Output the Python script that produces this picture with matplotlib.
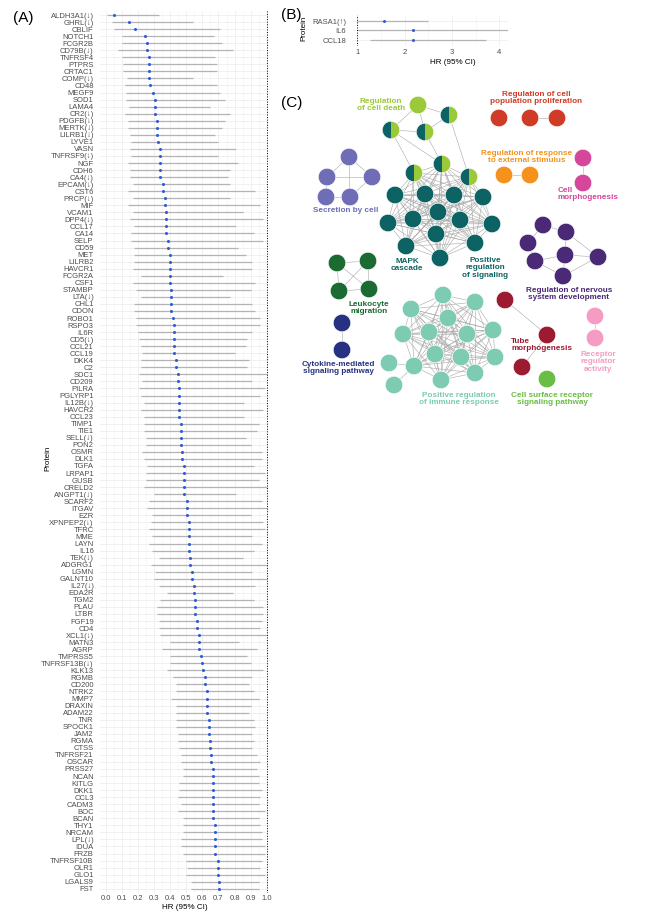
import itertools
import numpy as np
import matplotlib
matplotlib.use('Agg')
import matplotlib.pyplot as plt
from matplotlib.patches import Circle, Wedge

plt.rcParams['font.family'] = ['Liberation Sans', 'DejaVu Sans']

# ---------- (A) 数据 ----------
proteins = ['ALDH3A1(↓)', 'GHRL(↓)', 'CBLIF', 'NOTCH1', 'FCGR2B', 'CD79B(↓)', 'TNFRSF4', 'PTPRS',
            'CRTAC1', 'COMP(↓)', 'CD48', 'MEGF9', 'SOD1', 'LAMA4', 'CR2(↓)', 'PDGFB(↓)', 'MERTK(↓)',
            'LILRB1(↓)', 'LYVE1', 'VASN', 'TNFRSF9(↓)', 'NGF', 'CDH6', 'CA4(↓)', 'EPCAM(↓)', 'CST6',
            'PRCP(↓)', 'MIF', 'VCAM1', 'DPP4(↓)', 'CCL17', 'CA14', 'SELP', 'CD59', 'MET', 'LILRB2',
            'HAVCR1', 'FCGR2A', 'CSF1', 'STAMBP', 'LTA(↓)', 'CHL1', 'CDON', 'ROBO1', 'RSPO3', 'IL6R',
            'CD5(↓)', 'CCL21', 'CCL19', 'DKK4', 'C2', 'SDC1', 'CD209', 'PILRA', 'PGLYRP1', 'IL12B(↓)',
            'HAVCR2', 'CCL23', 'TIMP1', 'TIE1', 'SELL(↓)', 'PON2', 'OSMR', 'DLK1', 'TGFA', 'LRPAP1',
            'GUSB', 'CRELD2', 'ANGPT1(↓)', 'SCARF2', 'ITGAV', 'EZR', 'XPNPEP2(↓)', 'TFRC', 'MME',
            'LAYN', 'IL16', 'TEK(↓)', 'ADGRG1', 'LGMN', 'GALNT10', 'IL27(↓)', 'EDA2R', 'TGM2', 'PLAU',
            'LTBR', 'FGF19', 'CD4', 'XCL1(↓)', 'MATN3', 'AGRP', 'TMPRSS5', 'TNFRSF13B(↓)', 'KLK13',
            'RGMB', 'CD200', 'NTRK2', 'MMP7', 'DRAXIN', 'ADAM22', 'TNR', 'SPOCK1', 'JAM2', 'RGMA',
            'CTSS', 'TNFRSF21', 'OSCAR', 'PRSS27', 'NCAN', 'KITLG', 'DKK1', 'CCL3', 'CADM3', 'BOC',
            'BCAN', 'THY1', 'NRCAM', 'LPL(↓)', 'IDUA', 'FRZB', 'TNFRSF10B', 'OLR1', 'GLO1', 'LGALS9',
            'FST']
hr = [0.052, 0.144, 0.183, 0.244, 0.254, 0.254, 0.265, 0.265, 0.265, 0.265, 0.275, 0.294, 0.304,
      0.304, 0.304, 0.315, 0.315, 0.315, 0.325, 0.335, 0.335, 0.335, 0.335, 0.335, 0.354, 0.354,
      0.365, 0.365, 0.375, 0.375, 0.375, 0.375, 0.385, 0.385, 0.396, 0.396, 0.396, 0.396, 0.396,
      0.404, 0.404, 0.404, 0.404, 0.415, 0.425, 0.425, 0.425, 0.425, 0.425, 0.435, 0.435, 0.446,
      0.446, 0.456, 0.456, 0.456, 0.456, 0.456, 0.467, 0.467, 0.467, 0.467, 0.475, 0.475, 0.485,
      0.485, 0.485, 0.485, 0.485, 0.506, 0.506, 0.506, 0.517, 0.517, 0.517, 0.517, 0.517, 0.525,
      0.525, 0.535, 0.535, 0.546, 0.546, 0.556, 0.556, 0.556, 0.567, 0.567, 0.577, 0.577, 0.577,
      0.588, 0.596, 0.606, 0.617, 0.617, 0.627, 0.627, 0.627, 0.627, 0.638, 0.638, 0.638, 0.646,
      0.646, 0.656, 0.656, 0.667, 0.667, 0.667, 0.667, 0.667, 0.667, 0.667, 0.667, 0.677, 0.677,
      0.677, 0.677, 0.677, 0.696, 0.696, 0.696, 0.706, 0.706]
lower = [0.004, 0.038, 0.05, 0.098, 0.098, 0.077, 0.098, 0.108, 0.108, 0.129, 0.119, 0.125, 0.125,
         0.146, 0.119, 0.138, 0.138, 0.15, 0.158, 0.15, 0.158, 0.138, 0.15, 0.15, 0.167, 0.138,
         0.167, 0.138, 0.167, 0.15, 0.177, 0.158, 0.158, 0.177, 0.177, 0.177, 0.167, 0.217, 0.167,
         0.188, 0.217, 0.177, 0.177, 0.188, 0.188, 0.198, 0.206, 0.217, 0.227, 0.217, 0.217, 0.206,
         0.227, 0.206, 0.217, 0.238, 0.217, 0.238, 0.238, 0.238, 0.248, 0.248, 0.227, 0.238, 0.256,
         0.248, 0.248, 0.238, 0.298, 0.267, 0.256, 0.288, 0.277, 0.267, 0.288, 0.267, 0.288, 0.327,
         0.277, 0.306, 0.298, 0.327, 0.377, 0.338, 0.317, 0.317, 0.327, 0.327, 0.338, 0.398, 0.348,
         0.398, 0.398, 0.377, 0.417, 0.438, 0.438, 0.406, 0.438, 0.438, 0.438, 0.438, 0.448, 0.448,
         0.456, 0.467, 0.467, 0.477, 0.477, 0.456, 0.456, 0.448, 0.467, 0.448, 0.477, 0.477, 0.477,
         0.467, 0.467, 0.477, 0.496, 0.506, 0.496, 0.527, 0.527]
upper = [0.33, 0.54, 0.71, 0.67, 0.72, 0.79, 0.68, 0.69, 0.69, 0.54, 0.69, 0.71, 0.74, 0.65, 0.77,
         0.74, 0.72, 0.68, 0.70, 0.81, 0.70, 0.82, 0.77, 0.76, 0.77, 0.93, 0.77, 0.96, 0.85, 0.98,
         0.81, 0.92, 0.98, 0.82, 0.87, 0.91, 0.91, 0.73, 0.93, 0.90, 0.77, 0.91, 0.93, 0.96, 0.96,
         0.91, 0.88, 0.87, 0.80, 0.89, 0.88, 1.0, 0.91, 0.99, 0.96, 0.86, 0.98, 0.86, 0.95, 0.94,
         0.87, 0.90, 0.97, 0.97, 0.92, 0.99, 0.95, 1.0, 0.81, 0.97, 1.0, 0.90, 0.98, 0.99, 0.91,
         0.97, 0.92, 0.85, 1.0, 0.91, 1.0, 0.93, 0.79, 0.92, 0.98, 0.98, 0.97, 0.96, 1.0, 0.83, 0.94,
         0.88, 0.90, 0.98, 0.91, 0.89, 0.92, 0.95, 0.90, 0.89, 0.92, 0.93, 0.91, 0.92, 0.91, 0.94,
         0.96, 0.94, 0.95, 0.95, 0.97, 0.96, 0.95, 0.99, 0.95, 0.96, 0.97, 0.97, 0.99, 0.99, 0.97,
         0.96, 0.99, 0.95, 0.95]

# ---------- (B) 数据 ----------
b_proteins = ['RASA1(↑)', 'IL6', 'CCL18']
b_hr = [1.57, 2.18, 2.18]
b_lower = [1.0, 1.0, 1.27]
b_upper = [2.48, 4.6, 3.72]

# ---------- (C) 网络：节点位置（图片像素坐标）和边 ----------
death_nodes = [(418, 105), (449, 115), (391, 130), (425, 132)]   # 第一个是纯色，其余半色
death_edges = [(0, 1), (0, 2), (0, 3), (2, 3), (3, 1)]
mapk_half = [(414, 173), (442, 164), (469, 177)]
mapk_nodes = [(395, 195), (425, 194), (454, 195), (483, 197), (438, 212), (388, 223), (413, 219),
              (460, 220), (492, 224), (436, 234), (406, 246), (475, 243), (440, 258)]
death_to_mapk = [(2, 0), (2, 1), (3, 1), (1, 2)]
prolif_nodes = [(499, 118), (530, 118), (557, 118)]
prolif_edges = [(1, 2)]
stim_nodes = [(504, 175), (530, 175)]
stim_edges = [(0, 1)]
morph_nodes = [(583, 158), (583, 183)]
morph_edges = [(0, 1)]
secret_nodes = [(349, 157), (327, 177), (372, 177), (326, 197), (350, 197)]
secret_edges = [(0, 1), (0, 2), (0, 4), (1, 2), (1, 3), (3, 4), (2, 4)]
nerv_nodes = [(543, 225), (566, 232), (528, 243), (535, 261), (565, 255), (598, 257), (563, 276)]
nerv_edges = [(0, 1), (0, 2), (1, 4), (1, 5), (2, 3), (3, 4), (4, 5), (4, 6), (3, 6), (5, 6)]
leuko_nodes = [(337, 263), (368, 261), (339, 291), (369, 289)]
leuko_edges = [(0, 1), (0, 2), (1, 3), (2, 3), (0, 3), (1, 2)]
cyto_nodes = [(342, 323), (342, 350)]
cyto_edges = [(0, 1)]
immune_nodes = [(443, 295), (411, 309), (475, 302), (448, 318), (403, 334), (429, 332), (467, 334),
                (493, 330), (435, 354), (461, 357), (495, 357), (414, 366), (475, 373), (441, 380)]
immune_outer = [(389, 363), (394, 385)]
tube_nodes = [(505, 300), (547, 335), (522, 367)]
tube_edges = [(0, 1), (1, 2)]
recep_nodes = [(595, 316), (595, 338)]
recep_edges = [(0, 1)]
surf_nodes = [(547, 379)]

W, H = 656, 913
fig = plt.figure(figsize=(W / 100, H / 100), dpi=100)


def px_axes(l, t, r, b):
    return fig.add_axes([l / W, 1 - b / H, (r - l) / W, (b - t) / H])


def px_text(x, y, s, **kw):
    fig.text(x / W, 1 - y / H, s, **kw)


def forest_style(ax):
    for s in ax.spines.values():
        s.set_visible(False)
    ax.set_axisbelow(True)
    ax.grid(which='major', color='#EBEBEB', lw=0.5)
    ax.grid(which='minor', axis='x', color='#F3F3F3', lw=0.4)
    ax.tick_params(which='both', length=0, labelsize=5.5, colors='#4D4D4D')


# ---------- (A) ----------
axA = px_axes(99.6, 10.8, 267.5, 893)
y = np.arange(len(proteins))
axA.hlines(y, lower, upper, color='#B3B3B3', lw=0.9)
axA.plot(hr, y, 'o', color='#2F5BD6', ms=2.2, mew=0)
axA.axvline(1.0, color='black', ls=':', lw=0.7)
axA.set_xlim(-0.04, 1.005)
axA.set_ylim(len(proteins) - 0.4, -0.6)
axA.set_xticks(np.arange(0, 1.01, 0.1))
axA.set_xticklabels([f'{v:.1f}' for v in np.arange(0, 1.01, 0.1)])
axA.set_xticks(np.arange(0.05, 1.0, 0.1), minor=True)
axA.set_yticks(y)
axA.set_yticklabels(proteins)
forest_style(axA)
axA.tick_params(axis='y', pad=4.3)
axA.tick_params(axis='x', pad=1.2)
px_text(185, 907, 'HR (95% CI)', fontsize=5.8, ha='center', va='center')
px_text(48, 458, 'Protein', fontsize=5.8, rotation=90, ha='center', va='center')
px_text(23, 18, '(A)', fontsize=11, ha='center', va='center')

# ---------- (B) ----------
axB = px_axes(352.7, 15.3, 508, 45.7)
yb = np.arange(len(b_proteins))
axB.hlines(yb, b_lower, b_upper, color='#B3B3B3', lw=0.9)
axB.plot(b_hr, yb, 'o', color='#2F5BD6', ms=2.2, mew=0)
axB.axvline(1.0, color='black', ls=':', lw=0.7)
axB.set_xlim(0.9, 4.18)
axB.set_ylim(len(b_proteins) - 0.4, -0.6)
axB.set_xticks([1, 2, 3, 4])
axB.set_xticks([1.5, 2.5, 3.5], minor=True)
axB.set_yticks(yb)
axB.set_yticklabels(b_proteins)
forest_style(axB)
axB.tick_params(axis='y', pad=4.8)
axB.tick_params(axis='x', pad=2.4)
px_text(453, 62, 'HR (95% CI)', fontsize=5.8, ha='center', va='center')
px_text(304, 28, 'Protein', fontsize=5.8, rotation=90, ha='center', va='center')
px_text(291, 15, '(B)', fontsize=11, ha='center', va='center')

# ---------- (C) ----------
axC = px_axes(280, 80, 656, 420)
axC.set_xlim(280, 656)
axC.set_ylim(420, 80)
axC.axis('off')

TEAL = '#0D6363'
LGREEN = '#9BC93A'
EDGE = '#A8A8A8'
R = 8.8


def draw_edges(nodes_a, nodes_b, pairs):
    for i, j in pairs:
        (x1, y1), (x2, y2) = nodes_a[i], nodes_b[j]
        axC.plot([x1, x2], [y1, y2], color=EDGE, lw=0.4, zorder=1)


def draw_nodes(nodes, color):
    for (x, yy) in nodes:
        axC.add_patch(Circle((x, yy), R, facecolor=color, edgecolor='white', lw=0.5, zorder=3))


def draw_half(nodes):
    for (x, yy) in nodes:
        axC.add_patch(Wedge((x, yy), R, 90, 270, facecolor=TEAL, edgecolor='none', zorder=3))
        axC.add_patch(Wedge((x, yy), R, -90, 90, facecolor=LGREEN, edgecolor='none', zorder=3))
        axC.add_patch(Circle((x, yy), R, facecolor='none', edgecolor='white', lw=0.5, zorder=4))


# 边
core = mapk_half + mapk_nodes
draw_edges(core, core, list(itertools.combinations(range(len(core)), 2)))
draw_edges(death_nodes, death_nodes, death_edges)
draw_edges(death_nodes, mapk_half, death_to_mapk)
draw_edges(immune_nodes, immune_nodes, list(itertools.combinations(range(len(immune_nodes)), 2)))
draw_edges(immune_outer, immune_nodes, [(0, 11), (1, 11)])
draw_edges(prolif_nodes, prolif_nodes, prolif_edges)
draw_edges(stim_nodes, stim_nodes, stim_edges)
draw_edges(morph_nodes, morph_nodes, morph_edges)
draw_edges(secret_nodes, secret_nodes, secret_edges)
draw_edges(nerv_nodes, nerv_nodes, nerv_edges)
draw_edges(leuko_nodes, leuko_nodes, leuko_edges)
draw_edges(cyto_nodes, cyto_nodes, cyto_edges)
draw_edges(tube_nodes, tube_nodes, tube_edges)
draw_edges(recep_nodes, recep_nodes, recep_edges)

# 节点
draw_nodes(death_nodes[:1], LGREEN)
draw_half(death_nodes[1:])
draw_half(mapk_half)
draw_nodes(mapk_nodes, TEAL)
draw_nodes(prolif_nodes, '#CF3B26')
draw_nodes(stim_nodes, '#F5921E')
draw_nodes(morph_nodes, '#D4479A')
draw_nodes(secret_nodes, '#6E6DB5')
draw_nodes(nerv_nodes, '#4A2A76')
draw_nodes(leuko_nodes, '#1B6B32')
draw_nodes(cyto_nodes, '#263281')
draw_nodes(immune_nodes + immune_outer, '#7DCBB2')
draw_nodes(tube_nodes, '#9C1B31')
draw_nodes(recep_nodes, '#F49CC3')
draw_nodes(surf_nodes, '#6ABD45')

# 文字标签
labels = [
    ('Regulation\nof cell death', 381, 105, LGREEN, 'center'),
    ('Regulation of cell\npopulation proliferation', 536, 98, '#CF3B26', 'center'),
    ('Regulation of response\nto external stimulus', 527, 157, '#F5921E', 'center'),
    ('Cell\nmorphogenesis', 558, 194, '#D4479A', 'left'),
    ('Secretion by cell', 346, 211, '#6E6DB5', 'center'),
    ('MAPK\ncascade', 407, 265, TEAL, 'center'),
    ('Positive\nregulation\nof signaling', 485, 268, TEAL, 'center'),
    ('Regulation of nervous\nsystem development', 569, 294, '#4A2A76', 'center'),
    ('Leukocyte\nmigration', 369, 308, '#1B6B32', 'center'),
    ('Cytokine-mediated\nsignaling pathway', 338, 368, '#263281', 'center'),
    ('Positive regulation\nof immune response', 459, 399, '#7DCBB2', 'center'),
    ('Tube\nmorphogenesis', 511, 345, '#9C1B31', 'left'),
    ('Receptor\nregulator\nactivity', 598, 362, '#F49CC3', 'center'),
    ('Cell surface receptor\nsignaling pathway', 552, 399, '#6ABD45', 'center'),
]
for s, x, yy, c, ha in labels:
    axC.text(x, yy, s, color=c, fontsize=5.9, fontweight='bold', ha=ha, va='center',
             multialignment='center' if ha == 'center' else 'left', linespacing=1.05, zorder=5)
px_text(292, 103, '(C)', fontsize=11, ha='center', va='center')

fig.savefig('out.png', dpi=100, facecolor='white')
